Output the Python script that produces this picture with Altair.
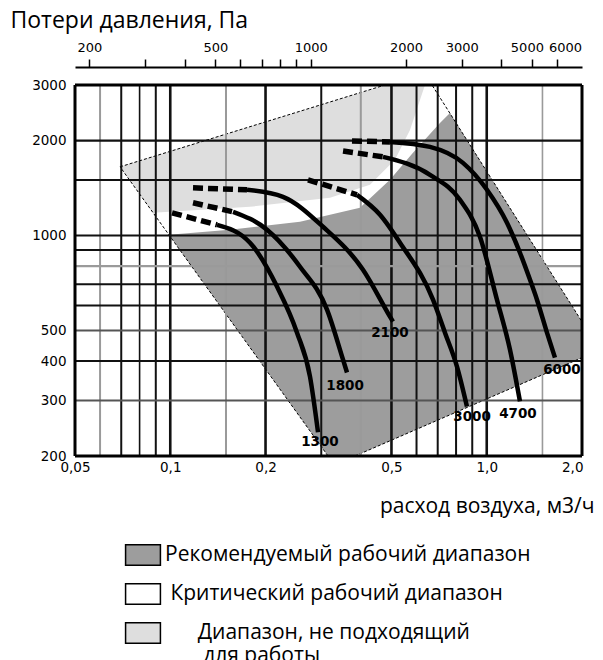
import altair as alt
import pandas as pd

# ---------------- axis ticks ----------------
x_ticks = [0.05, 0.1, 0.2, 0.5, 1.0, 2.0]
y_ticks = [200, 300, 400, 500, 1000, 2000, 3000]
top_ticks = [200, 300, 400, 500, 600, 700, 800, 900, 1000, 2000, 3000, 4000, 5000, 6000]
top_labels = [200, 500, 1000, 2000, 3000, 5000, 6000]
top_ratio = 3600  # top scale = bottom scale * 3600

# ---------------- grid ----------------
grid_x = [0.06, 0.07, 0.08, 0.09, 0.1, 0.15, 0.2, 0.3, 0.4, 0.5, 0.6, 0.7, 0.8, 0.9, 1.0, 1.5]
grid_x_tone = ['g', 'k', 'k', 'k', 'k', 'g', 'k', 'k', 'g', 'k', 'k', 'k', 'k', 'k', 'k', 'g']
grid_x_width = [2, 2, 1.6, 2, 2.6, 2, 2.6, 2, 2, 2.6, 2, 2, 2, 2, 2.6, 1.6]
grid_y = [300, 400, 500, 600, 700, 800, 900, 1000, 1500, 2000]
grid_y_tone = ['m', 'k', 'm', 'k', 'k', 'g', 'k', 'k', 'k', 'k']
grid_y_width = [2, 2, 2, 2, 2, 2.4, 2, 2.2, 2, 2.2]
frame_x = [0.05, 2.0]
frame_y = [200, 3000]

# ---------------- zones ----------------
zone_names = ['Рекомендуемый рабочий диапазон',
              'Критический рабочий диапазон',
              'Диапазон, не подходящий для работы']
zone_colors = ['#9d9d9d', '#ffffff', '#dedede']

outer_x = [0.0694, 0.477, 0.6715, 2.0, 2.0, 0.3834, 0.3151]
outer_y = [1651, 3000, 3000, 533, 410, 200, 200]
white_x = [0.0882, 0.3151, 0.3834, 2.0, 2.0, 0.6715, 0.6381, 0.6152, 0.5722, 0.5128, 0.4276, 0.3197, 0.1786]
white_y = [1180, 200, 200, 410, 533, 3000, 3000, 2689, 2162, 1737, 1448, 1317, 1233]
dark_x = [0.0991, 0.3151, 0.3834, 2.0, 2.0, 0.7652, 0.7116, 0.5847, 0.4946, 0.3976, 0.2570, 0.1544]
dark_y = [1005, 200, 200, 410, 533, 2446, 2275, 1828, 1501, 1224, 1105, 1043]

# ---------------- fan curves ----------------
c1300_dash_x = [0.1013, 0.1405]
c1300_dash_y = [1180, 1081]
c1300_x = [0.1405, 0.1786, 0.2174, 0.2515, 0.2764, 0.2930]
c1300_y = [1081, 949, 689, 492, 357, 238]

c1800_dash_x = [0.1180, 0.1579]
c1800_dash_y = [1270, 1189]
c1800_x = [0.1579, 0.2022, 0.2570, 0.3128, 0.3515, 0.3618]
c1800_y = [1189, 1043, 796, 582, 404, 368]

c2100_dash_x = [0.1180, 0.1748]
c2100_dash_y = [1416, 1396]
c2100_x = [0.1748, 0.2271, 0.3038, 0.4064, 0.4946, 0.5055]
c2100_y = [1396, 1326, 1066, 779, 553, 533]

c3000_dash_x = [0.2724, 0.3890]
c3000_dash_y = [1501, 1346]
c3000_x = [0.3890, 0.4600, 0.5320, 0.6764, 0.7380, 0.8054, 0.8659]
c3000_y = [1346, 1164, 949, 626, 492, 384, 287]

c4700_dash_x = [0.3515, 0.4700]
c4700_dash_y = [1854, 1775]
c4700_x = [0.4700, 0.6617, 0.8229, 0.9518, 1.0771, 1.184, 1.2735]
c4700_y = [1775, 1557, 1298, 991, 626, 435, 298]

c6000_dash_x = [0.3752, 0.4946]
c6000_dash_y = [1995, 1980]
c6000_x = [0.4946, 0.6617, 0.8412, 1.0016, 1.1587, 1.2735, 1.3694, 1.4412, 1.550, 1.6429]
c6000_y = [1980, 1909, 1699, 1396, 1097, 882, 725, 626, 492, 410]

label_text = ['1300', '1800', '2100', '3000', '4700', '6000']
label_x = [0.2972, 0.3566, 0.4946, 0.8985, 1.2549, 1.7285]
label_y = [221, 334, 492, 265, 271, 376]

# ---------------- data frames ----------------
def poly(xs, ys):
    return pd.DataFrame({'x': xs, 'y': ys, 'i': list(range(len(xs)))})

curves = [('1300', c1300_dash_x, c1300_dash_y, c1300_x, c1300_y),
          ('1800', c1800_dash_x, c1800_dash_y, c1800_x, c1800_y),
          ('2100', c2100_dash_x, c2100_dash_y, c2100_x, c2100_y),
          ('3000', c3000_dash_x, c3000_dash_y, c3000_x, c3000_y),
          ('4700', c4700_dash_x, c4700_dash_y, c4700_x, c4700_y),
          ('6000', c6000_dash_x, c6000_dash_y, c6000_x, c6000_y)]
dash_rows, solid_rows = [], []
for name, dx, dy, sx, sy in curves:
    for k, (a, b) in enumerate(zip(dx, dy)):
        dash_rows.append({'curve': name, 'x': a, 'y': b, 'i': k})
    for k, (a, b) in enumerate(zip(sx, sy)):
        solid_rows.append({'curve': name, 'x': a, 'y': b, 'i': k})
dash_df = pd.DataFrame(dash_rows)
solid_df = pd.DataFrame(solid_rows)
labels_df = pd.DataFrame({'x': label_x, 'y': label_y, 't': label_text})
gx_df = pd.DataFrame({'gx': grid_x, 'tone': grid_x_tone, 'w': grid_x_width})
gy_df = pd.DataFrame({'gy': grid_y, 'tone': grid_y_tone, 'w': grid_y_width})
fx_df = pd.DataFrame({'fx': frame_x})
fy_df = pd.DataFrame({'fy': frame_y})
legend_df = pd.DataFrame({'zone': zone_names, 'x': [None] * 3, 'y': [None] * 3})

# ---------------- scales & axes ----------------
XS = alt.Scale(type='log', domain=[0.05, 2.0], nice=False)
YS = alt.Scale(type='log', domain=[200, 3000], nice=False)
NUMFONT = "'DejaVu Sans', sans-serif"
TXTFONT = "'Open Sans', 'Liberation Sans', sans-serif"

y_axis = alt.Axis(values=y_ticks, format='d', grid=False, ticks=False, domain=False,
                  labelFont=NUMFONT, labelFontSize=13.5, labelColor='black', labelPadding=9,
                  labelOverlap=False, title=None)
x_bottom = alt.Axis(orient='bottom', values=x_ticks,
                    labelExpr="datum.value >= 1 ? replace(format(datum.value, '.1f'), '.', ',') : replace(format(datum.value, '~g'), '.', ',')",
                    grid=False, ticks=False, domain=False, labelPadding=4, labelOverlap=False,
                    labelFlush=False,
                    labelAlign={"condition": {"test": "datum.value >= 1.9", "value": "right"},
                                "value": "center"},
                    labelOffset={"condition": {"test": "datum.value >= 1.9", "value": 1},
                                 "value": 0},
                    labelFont=NUMFONT, labelFontSize=13.5, labelColor='black',
                    title='расход воздуха, м3/ч', titleFont=TXTFONT, titleFontSize=21,
                    titleFontWeight='normal', titleColor='black', titleX=519, titleY=56,
                    titleAlign='right', titleBaseline='alphabetic')
top_val = "round(datum.value*" + str(top_ratio) + ")"
top_expr = ("indexof([" + ",".join(str(v) for v in top_labels) + "], " + top_val +
            ") >= 0 ? format(" + top_val + ", 'd') : ''")
x_top = alt.Axis(orient='top', values=[v / top_ratio for v in top_ticks], labelExpr=top_expr,
                 offset=18, grid=False, ticks=True, tickSize=8, tickWidth=1.5, tickColor='black',
                 domain=True, domainColor='black', domainWidth=2, labelPadding=5, labelOverlap=False,
                 labelOffset={"condition": [{"test": top_val + " == 5000", "value": -5},
                                            {"test": top_val + " == 6000", "value": 8}],
                              "value": 0},
                 labelFont=NUMFONT, labelFontSize=13, labelColor='black',
                 title='Потери давления, Па', titleFont=TXTFONT, titleFontSize=23,
                 titleFontWeight='normal', titleColor='black', titleX=-65, titleY=-40,
                 titleAlign='left', titleBaseline='alphabetic', titleAngle=0)

def X(field, axis=None):
    return alt.X(field + ':Q', scale=XS, axis=axis)

def Y(field):
    return alt.Y(field + ':Q', scale=YS, axis=y_axis)

# ---------------- layers ----------------
outer = alt.Chart(poly(outer_x, outer_y)).mark_line(
    interpolate='linear-closed', fill=zone_colors[2], strokeOpacity=0).encode(
    x=X('x', x_bottom), y=Y('y'), order='i:Q')
white = alt.Chart(poly(white_x, white_y)).mark_line(
    interpolate='linear-closed', fill=zone_colors[1], strokeOpacity=0).encode(
    x=X('x'), y=Y('y'), order='i:Q')
dark = alt.Chart(poly(dark_x, dark_y)).mark_line(
    interpolate='linear-closed', fill=zone_colors[0], strokeOpacity=0).encode(
    x=X('x'), y=Y('y'), order='i:Q')
outline = alt.Chart(poly(outer_x, outer_y)).mark_line(
    interpolate='linear-closed', stroke='black', strokeWidth=1, strokeDash=[3, 2]).encode(
    x=X('x'), y=Y('y'), order='i:Q')

tone_scale = alt.Scale(domain=['k', 'm', 'g'], range=['#111111', '#555555', '#9a9a9a'])
vgrid = alt.Chart(gx_df).mark_rule().encode(
    x=X('gx', x_top), color=alt.Color('tone:N', scale=tone_scale, legend=None),
    size=alt.Size('w:Q', scale=None, legend=None))
hgrid = alt.Chart(gy_df).mark_rule().encode(
    y=Y('gy'), color=alt.Color('tone:N', scale=tone_scale, legend=None),
    size=alt.Size('w:Q', scale=None, legend=None))
vframe = alt.Chart(fx_df).mark_rule(color='black', strokeWidth=3).encode(x=X('fx'))
hframe = alt.Chart(fy_df).mark_rule(color='black', strokeWidth=3).encode(y=Y('fy'))

dashed = alt.Chart(dash_df).mark_line(color='black', strokeWidth=5.5, strokeDash=[10, 5]).encode(
    x=X('x'), y=Y('y'), detail='curve:N', order='i:Q')
solid = alt.Chart(solid_df).mark_line(color='black', strokeWidth=4.5, interpolate='monotone').encode(
    x=X('x'), y=Y('y'), detail='curve:N', order='i:Q')
texts = alt.Chart(labels_df).mark_text(font=NUMFONT, fontSize=13.5, fontWeight='bold', color='black').encode(
    x=X('x'), y=Y('y'), text='t:N')

ZW = '\u200b'   # zero-width char so the indent survives trimming
NB = '\u00a0'
legend_expr = ("datum.label == '" + zone_names[2] + "' ? ['" + ZW + NB * 6 + "Диапазон, не подходящий', '" +
               ZW + NB * 7 + "для работы'] : datum.label == '" + zone_names[1] + "' ? '" + ZW + NB +
               "' + datum.label : datum.label")
legend_layer = alt.Chart(legend_df).mark_square(opacity=1).encode(
    x=X('x'), y=Y('y'),
    fill=alt.Fill('zone:N', scale=alt.Scale(domain=zone_names, range=zone_colors),
                  legend=alt.Legend(orient='none', legendX=57, legendY=459, title=None,
                                    symbolType='M-1.7,-1H1.7V1H-1.7Z', symbolSize=420,
                                    symbolStrokeColor='black', symbolStrokeWidth=1.5,
                                    labelFont=TXTFONT, labelFontSize=21, labelColor='black',
                                    labelLimit=0, labelOffset=11, rowPadding=11, padding=0,
                                    labelExpr=legend_expr)))

chart = alt.layer(outer, white, dark, outline, vgrid, hgrid, vframe, hframe,
                  solid, dashed, texts, legend_layer).resolve_axis(x='independent').properties(
    width=507, height=371,
    autosize=alt.AutoSizeParams(type='none'),
    padding={'left': 67, 'top': 77, 'right': 13, 'bottom': 206},
    background='white'
).configure_view(strokeOpacity=0)

chart.save("out.html", embed_options={"renderer": "svg", "actions": False})
